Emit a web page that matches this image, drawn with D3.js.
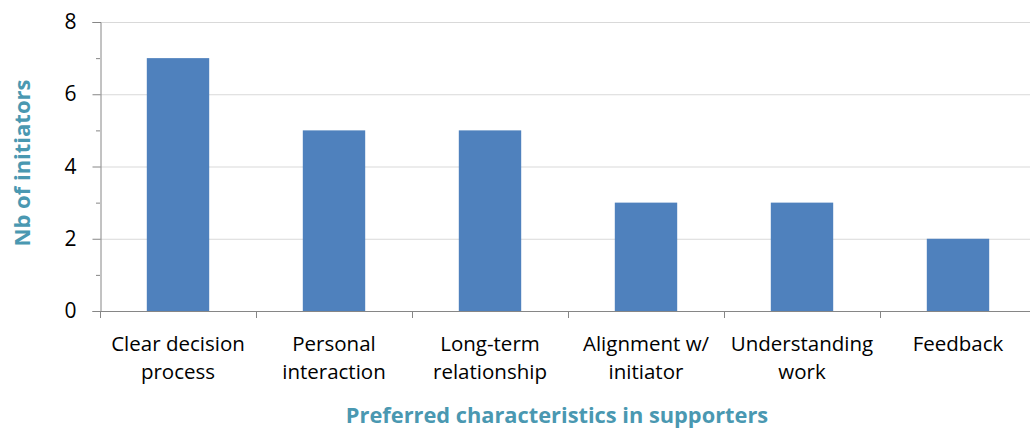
<!DOCTYPE html>
<html><head><meta charset="utf-8">
<script src="https://cdn.jsdelivr.net/npm/d3@7"></script>
<style>body{margin:0;background:#fff}svg{display:block}</style>
</head><body>
<svg id="c" width="1030" height="429"></svg>
<script>
const categories = [["Clear decision","process"],["Personal","interaction"],["Long-term","relationship"],["Alignment w/","initiator"],["Understanding","work"],["Feedback"]];
const values = [7,5,5,3,3,2];
const yTicks = [0,2,4,6,8];
const yMinor = [1,3,5,7];
const yTitle = "Nb of initiators";
const xTitle = "Preferred characteristics in supporters";

const svg = d3.select("#c");
const font = "'Open Sans', sans-serif";
const x = d3.scaleBand().domain(d3.range(values.length)).range([100,1036]).paddingInner(0.6).paddingOuter(0.3);
const y = d3.scaleLinear().domain([0,8]).range([311,22]);

// gridlines
svg.append("g").selectAll("line").data(yTicks.filter(d=>d>0)).join("line")
  .attr("x1",100).attr("x2",1030).attr("y1",d=>y(d)+0.5).attr("y2",d=>y(d)+0.5)
  .attr("stroke","#d9d9d9").attr("stroke-width",1);

// bars
svg.append("g").selectAll("rect").data(values).join("rect")
  .attr("x",(d,i)=>x(i)).attr("width",x.bandwidth())
  .attr("y",d=>y(d)).attr("height",d=>y(0)-y(d))
  .attr("fill","#4f81bd");

// y axis
const ya = svg.append("g").attr("transform","translate(100.5,0)")
  .call(d3.axisLeft(y).tickValues(yTicks).tickSize(8).tickPadding(18).tickFormat(d3.format("d")));
ya.select(".domain").attr("stroke","#868686");
ya.selectAll(".tick line").attr("stroke","#868686");
ya.selectAll(".tick text").attr("font-family",font).attr("font-size","21px").attr("fill","#000").attr("text-anchor","middle").attr("x",-30);
ya.selectAll(".tick").attr("transform",d=>`translate(0,${y(d)+0.5})`);
svg.append("g").selectAll("line").data(yMinor).join("line")
  .attr("x1",96).attr("x2",100).attr("y1",d=>y(d)+0.5).attr("y2",d=>y(d)+0.5)
  .attr("stroke","#868686");

// x axis
const boundaries = d3.range(values.length+1).map(i=>100+i*(x.step()));
svg.append("line").attr("x1",100).attr("x2",1030).attr("y1",311.5).attr("y2",311.5).attr("stroke","#868686");
svg.append("g").selectAll("line").data(boundaries.slice(0,values.length)).join("line")
  .attr("x1",d=>Math.round(d)+0.5).attr("x2",d=>Math.round(d)+0.5).attr("y1",311).attr("y2",318)
  .attr("stroke","#868686");

const lab = svg.append("g").selectAll("text").data(categories).join("text")
  .attr("x",(d,i)=>x(i)+x.bandwidth()/2).attr("y",351)
  .attr("text-anchor","middle").attr("font-family",font).attr("font-size","20.5px").attr("fill","#000");
lab.selectAll("tspan").data(d=>d).join("tspan")
  .attr("x",function(){return this.parentNode.getAttribute("x");})
  .attr("dy",(d,i)=>i===0?0:28).text(d=>d);

// titles
svg.append("text").attr("transform","translate(30,163) rotate(-90)")
  .attr("text-anchor","middle").attr("font-family",font).attr("font-weight","bold")
  .attr("font-size","22px").attr("fill","#4a98b1").text(yTitle);
svg.append("text").attr("x",557).attr("y",423)
  .attr("text-anchor","middle").attr("font-family",font).attr("font-weight","bold")
  .attr("font-size","21.8px").attr("fill","#4a98b1").text(xTitle);
</script>
</body></html>
